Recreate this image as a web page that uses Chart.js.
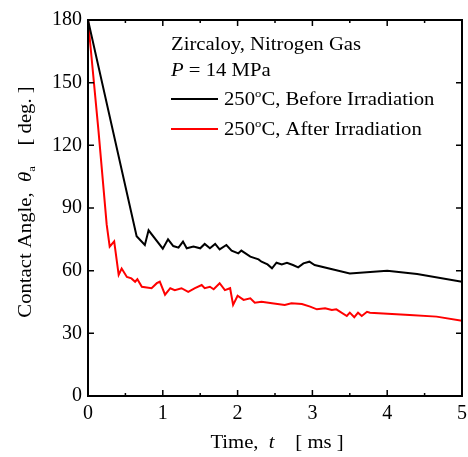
<!DOCTYPE html>
<html>
<head>
<meta charset="utf-8">
<script src="https://cdn.jsdelivr.net/npm/chart.js@4/dist/chart.umd.min.js"></script>
<style>
  html, body { margin: 0; padding: 0; background: #fff; }
  #wrap { width: 468px; height: 457px; }
</style>
</head>
<body>
<div id="wrap"><canvas id="chart" width="468" height="457"></canvas></div>
<script>
// --- DATA ---
const beforeTime  = [0, 0.65, 0.76, 0.81, 1.0, 1.07, 1.14, 1.21, 1.27, 1.32, 1.41, 1.5, 1.56, 1.63, 1.7, 1.76, 1.85, 1.92, 2.01, 2.05, 2.17, 2.28, 2.32, 2.4, 2.46, 2.52, 2.59, 2.66, 2.74, 2.81, 2.88, 2.96, 3.03, 3.5, 4.0, 4.4, 5.0];
const beforeAngle = [180, 76.5, 72.3, 79.3, 70.5, 75, 71.8, 71, 73.9, 70.7, 71.5, 70.7, 72.8, 70.7, 72.8, 70.2, 72.3, 69.6, 68.3, 69.6, 66.7, 65.4, 64.3, 63, 61.1, 63.8, 63, 63.8, 62.7, 61.6, 63.5, 64.3, 62.7, 58.7, 60, 58.4, 54.7];

const afterTime  = [0, 0.14, 0.25, 0.29, 0.35, 0.41, 0.45, 0.52, 0.58, 0.63, 0.66, 0.72, 0.85, 0.92, 0.96, 1.03, 1.1, 1.16, 1.25, 1.34, 1.43, 1.52, 1.56, 1.63, 1.68, 1.76, 1.83, 1.9, 1.94, 2.0, 2.08, 2.17, 2.23, 2.32, 2.46, 2.63, 2.72, 2.86, 2.97, 3.06, 3.17, 3.26, 3.32, 3.46, 3.5, 3.56, 3.61, 3.66, 3.73, 3.77, 4.3, 4.66, 5.0];
const afterAngle = [180, 127, 82, 71.5, 74, 58, 61, 57, 56.3, 54.7, 55.9, 52.3, 51.6, 54, 54.7, 48.5, 51.6, 50.7, 51.6, 49.9, 51.6, 53.1, 51.6, 52.3, 51.1, 54, 50.7, 51.6, 43.6, 48, 46, 46.8, 44.7, 45.1, 44.4, 43.6, 44.4, 44, 42.8, 41.5, 42, 41.2, 41.5, 38.3, 39.9, 37.7, 39.9, 38.3, 40.3, 39.9, 38.8, 38, 36];

const xMajorTicks = [0, 1, 2, 3, 4, 5];
const xMinorTicks = [0.5, 1.5, 2.5, 3.5, 4.5];
const yMajorTicks = [0, 30, 60, 90, 120, 150, 180];

const noteLines = ['Zircaloy, Nitrogen Gas'];
const seriesNames = ['Before Irradiation', 'After Irradiation'];
const seriesColors = ['#000000', '#ff0000'];

const SERIF = "'Liberation Serif', 'Times New Roman', serif";
const STRETCH = 1.15; // the source text is a bit wider than Times

function toPoints(xs, ys) {
    return xs.map((x, i) => ({ x: x, y: ys[i] }));
}

function runWidth(ctx, parts) {
    let w = 0;
    parts.forEach(p => { ctx.font = p[1]; w += ctx.measureText(p[0]).width; });
    return w * STRETCH;
}

// draws a run of [text, font, dy] pieces one after another, stretched sideways
function drawRun(ctx, parts, x, y) {
    ctx.save();
    ctx.translate(x, y);
    ctx.scale(STRETCH, 1);
    let cx = 0;
    parts.forEach(p => {
        ctx.font = p[1];
        ctx.fillText(p[0], cx, p[2] || 0);
        cx += ctx.measureText(p[0]).width;
    });
    ctx.restore();
}

// --- frame, inward ticks, titles and legend ---
const decorations = {
    id: 'decorations',
    afterDraw(chart) {
        const ctx = chart.ctx;
        const a = chart.chartArea;
        const xs = chart.scales.x, ys = chart.scales.y;
        ctx.save();
        ctx.strokeStyle = '#000';
        ctx.lineWidth = 2;
        ctx.strokeRect(a.left, a.top, a.right - a.left, a.bottom - a.top);

        ctx.lineWidth = 1.5;
        ctx.beginPath();
        const tick = (list, len) => list.forEach(v => {
            const px = xs.getPixelForValue(v);
            ctx.moveTo(px, a.bottom); ctx.lineTo(px, a.bottom - len);
            ctx.moveTo(px, a.top); ctx.lineTo(px, a.top + len);
        });
        tick(xMajorTicks, 6);
        tick(xMinorTicks, 3);
        yMajorTicks.forEach(v => {
            const py = ys.getPixelForValue(v);
            ctx.moveTo(a.left, py); ctx.lineTo(a.left + 6, py);
            ctx.moveTo(a.right, py); ctx.lineTo(a.right - 6, py);
        });
        ctx.stroke();

        ctx.fillStyle = '#000';
        ctx.textBaseline = 'alphabetic';
        ctx.textAlign = 'left';
        const normal = '18px ' + SERIF;
        const italic = 'italic 18px ' + SERIF;
        const small = '11px ' + SERIF;

        // x title
        const xParts = [['Time,  ', normal], ['t', italic], ['    [ ms ]', normal]];
        let w = runWidth(ctx, xParts);
        drawRun(ctx, xParts, 277 - w / 2, 448);

        // y title (rotated)
        const yParts = [['Contact Angle,  ', normal], ['\u03b8', italic], ['a', small, 4], ['    [ deg. ]', normal]];
        w = runWidth(ctx, yParts);
        ctx.save();
        ctx.translate(31, 202);
        ctx.rotate(-Math.PI / 2);
        drawRun(ctx, yParts, -w / 2, 0);
        ctx.restore();

        // legend block
        const lx = 171;
        drawRun(ctx, [[noteLines[0], normal]], lx, 50);
        drawRun(ctx, [['P', italic], [' = 14 MPa', normal]], lx, 76);
        [99, 129].forEach((ly, i) => {
            ctx.strokeStyle = seriesColors[i];
            ctx.lineWidth = 2;
            ctx.beginPath();
            ctx.moveTo(lx, ly); ctx.lineTo(218, ly);
            ctx.stroke();
            drawRun(ctx, [['250', normal], ['o', small, -8], ['C, ' + seriesNames[i], normal]], 224, ly + 6);
        });
        ctx.restore();
    }
};

new Chart(document.getElementById('chart'), {
    type: 'scatter',
    data: {
        datasets: [
            {
                label: '250\u00b0C, ' + seriesNames[0],
                data: toPoints(beforeTime, beforeAngle),
                showLine: true,
                borderColor: seriesColors[0],
                borderWidth: 2,
                pointRadius: 0,
                tension: 0
            },
            {
                label: '250\u00b0C, ' + seriesNames[1],
                data: toPoints(afterTime, afterAngle),
                showLine: true,
                borderColor: seriesColors[1],
                borderWidth: 2,
                pointRadius: 0,
                tension: 0
            }
        ]
    },
    options: {
        responsive: false,
        animation: false,
        layout: { padding: { top: 20, right: 6, left: 0, bottom: 0 } },
        plugins: {
            legend: { display: false },
            tooltip: { enabled: false }
        },
        scales: {
            x: {
                type: 'linear',
                min: 0, max: 5,
                afterFit: s => { s.height = 61; s.paddingLeft = 0; s.paddingRight = 0; },
                grid: { display: false, drawTicks: false },
                border: { display: false },
                ticks: { stepSize: 1, padding: 6, color: '#000', font: { family: SERIF, size: 20 } }
            },
            y: {
                min: 0, max: 180,
                afterFit: s => { s.width = 88; s.paddingTop = 0; s.paddingBottom = 0; },
                grid: { display: false, drawTicks: false },
                border: { display: false },
                ticks: { stepSize: 30, padding: 6, color: '#000', font: { family: SERIF, size: 20 } }
            }
        }
    },
    plugins: [decorations]
});
</script>
</body>
</html>
